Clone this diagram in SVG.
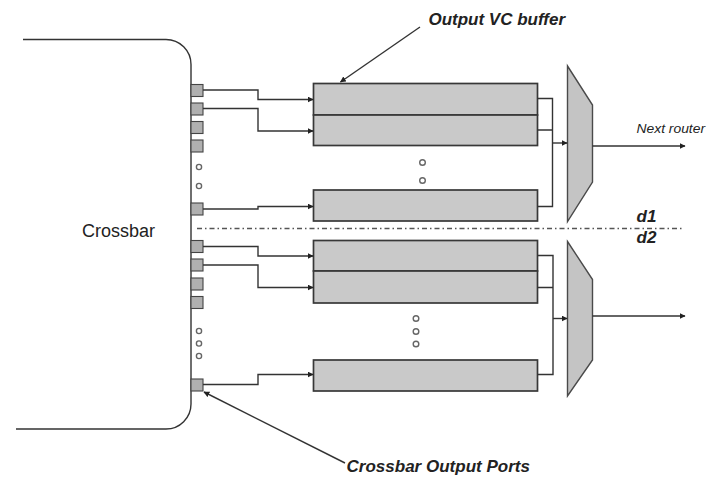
<svg xmlns="http://www.w3.org/2000/svg" width="709" height="477" viewBox="0 0 709 477">
<style>
.ln{fill:none;stroke:#333;stroke-width:1.4}
.port{fill:#b0b0b0;stroke:#444;stroke-width:1.1}
.buf{fill:#c9c9c9;stroke:#383838;stroke-width:1.7}
.mux{fill:#c4c4c4;stroke:#4a4a4a;stroke-width:1.4}
.dot{fill:#fff;stroke:#666;stroke-width:1.4}
.t{font-family:"Liberation Sans",Arial,sans-serif;fill:#222}
.bi{font-weight:bold;font-style:italic}
</style>
<defs>
<marker id="ah" viewBox="0 0 10 10" refX="9" refY="5" markerWidth="6" markerHeight="6" markerUnits="userSpaceOnUse" orient="auto">
<path d="M0,0 L10,5 L0,10 z" fill="#222"/>
</marker>
</defs>
<rect width="709" height="477" fill="#fff"/>
<g id="crossbar">
<path class="ln" d="M23,39.5 H166 A25,25 0 0 1 191,64.5 V404 A25,25 0 0 1 166,429 H16"/>
<text class="t" x="82" y="237" font-size="18" textLength="73" lengthAdjust="spacingAndGlyphs">Crossbar</text>
</g>
<g id="ports">
<rect class="port" x="191" y="84.5" width="12" height="12"/>
<rect class="port" x="191" y="103" width="12" height="12"/>
<rect class="port" x="191" y="121.5" width="12" height="12"/>
<rect class="port" x="191" y="140" width="12" height="12"/>
<rect class="port" x="191" y="203" width="12" height="12"/>
<rect class="port" x="191" y="240.5" width="12" height="12"/>
<rect class="port" x="191" y="259" width="12" height="12"/>
<rect class="port" x="191" y="278" width="12" height="12"/>
<rect class="port" x="191" y="296.5" width="12" height="12"/>
<rect class="port" x="191" y="379" width="12" height="12"/>
<circle class="dot" cx="199" cy="167" r="2.6"/>
<circle class="dot" cx="199" cy="186" r="2.6"/>
<circle class="dot" cx="199" cy="331" r="2.6"/>
<circle class="dot" cx="199" cy="343.5" r="2.6"/>
<circle class="dot" cx="199" cy="356" r="2.6"/>
</g>
<g id="buffers-upper">
<rect class="buf" x="313.5" y="83.5" width="224" height="31.5"/>
<rect class="buf" x="313.5" y="115" width="224" height="30.5"/>
<rect class="buf" x="313.5" y="190" width="224" height="31"/>
<circle class="dot" cx="422.5" cy="162.5" r="2.8"/>
<circle class="dot" cx="422.5" cy="180.5" r="2.8"/>
</g>
<g id="buffers-lower">
<rect class="buf" x="313.5" y="240.5" width="224" height="30.5"/>
<rect class="buf" x="313.5" y="271" width="224" height="32"/>
<rect class="buf" x="313.5" y="360" width="224" height="31"/>
<circle class="dot" cx="416" cy="318.5" r="2.8"/>
<circle class="dot" cx="416" cy="331.5" r="2.8"/>
<circle class="dot" cx="416" cy="344" r="2.8"/>
</g>
<g id="mux-upper">
<polygon class="mux" points="567.5,66 592.5,105 592.5,182 567.5,221.5"/>
</g>
<g id="mux-lower">
<polygon class="mux" points="567.5,241.5 592.5,279.5 592.5,360 567.5,396"/>
</g>
<g id="connectors">
<path class="ln" d="M203,90 H258 V99.5 H313" marker-end="url(#ah)"/>
<path class="ln" d="M203,108.5 H258 V131 H313" marker-end="url(#ah)"/>
<path class="ln" d="M203,209 H258 V206.5 H313" marker-end="url(#ah)"/>
<path class="ln" d="M203,246.5 H258 V256 H313" marker-end="url(#ah)"/>
<path class="ln" d="M203,265 H258 V287.5 H313" marker-end="url(#ah)"/>
<path class="ln" d="M203,384.5 H258 V374.5 H313" marker-end="url(#ah)"/>
<path class="ln" d="M537.5,98.5 H552.5 V206.5 H537.5 M537.5,130 H552.5"/>
<path class="ln" d="M552.5,143 H567" marker-end="url(#ah)"/>
<path class="ln" d="M537.5,255.5 H553 V374.5 H537.5 M537.5,287.5 H553"/>
<path class="ln" d="M553,318.5 H567" marker-end="url(#ah)"/>
<path class="ln" d="M592.5,146 H685" marker-end="url(#ah)"/>
<path class="ln" d="M592.5,316 H685" marker-end="url(#ah)"/>
<path class="ln" d="M420,27 L340.5,82" marker-end="url(#ah)"/>
<path class="ln" d="M345,463 L204,392" marker-end="url(#ah)"/>
</g>
<g id="divider">
<line x1="197" y1="228.5" x2="684" y2="228.5" stroke="#555" stroke-width="1.3" stroke-dasharray="5,3,1.5,3"/>
</g>
<g id="labels">
<text class="t bi" x="428.5" y="25" font-size="17" textLength="136.5" lengthAdjust="spacingAndGlyphs">Output VC buffer</text>
<text class="t bi" x="346.5" y="471.5" font-size="17" textLength="183.5" lengthAdjust="spacingAndGlyphs">Crossbar Output Ports</text>
<text class="t" x="636.5" y="133" font-size="12" font-style="italic" textLength="68.5" lengthAdjust="spacingAndGlyphs">Next router</text>
<text class="t bi" x="636.5" y="221.5" font-size="17">d1</text>
<text class="t bi" x="636.5" y="242.5" font-size="17">d2</text>
</g>
</svg>
